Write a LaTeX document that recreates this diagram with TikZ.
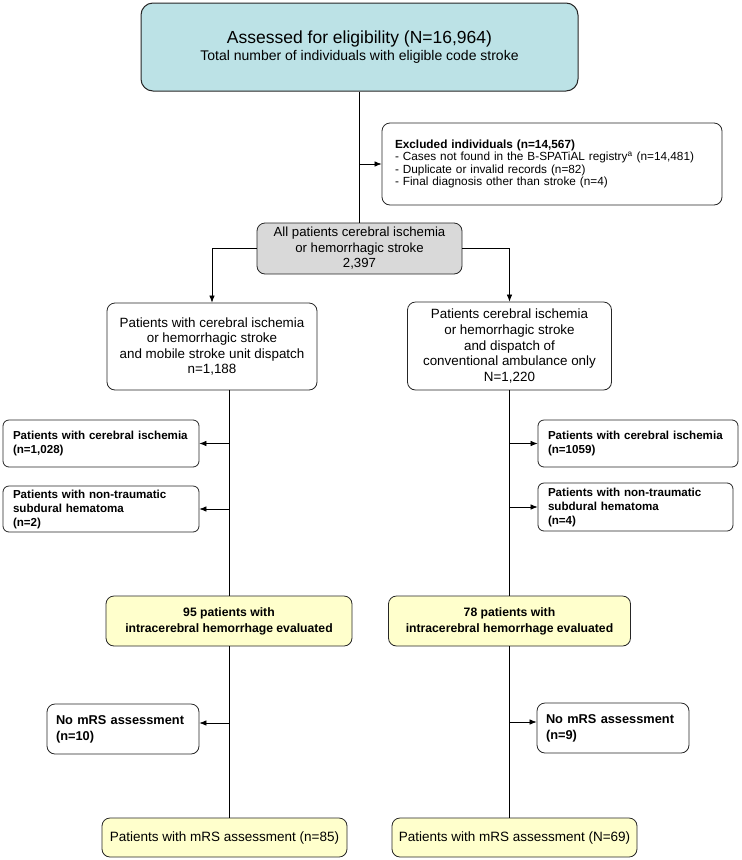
\documentclass[tikz,border=0pt]{standalone}
\usepackage{fontspec}
\setmainfont{Liberation Sans}
\usepackage{tikz}
\usetikzlibrary{shapes,arrows,arrows.meta,positioning,calc}
\definecolor{tealbox}{RGB}{188,226,230}
\definecolor{greybox}{RGB}{217,217,217}
\definecolor{yellowbox}{RGB}{255,255,204}
\tikzset{
block/.style = {draw=black!85, fill=white, rectangle, rounded corners=8pt, align=center, inner sep=2pt, line width=0.8pt},
topblock/.style = {block, fill=tealbox, rounded corners=12pt, line width=1pt},
greyblock/.style = {block, fill=greybox, font=\fontsize{13.2}{15.5}\selectfont},
armblock/.style = {block, font=\fontsize{13.4}{15.6}\selectfont},
sideblock/.style = {block, rounded corners=6pt, align=left, inner xsep=10pt, font=\fontsize{11.6}{14}\selectfont\bfseries},
ichblock/.style = {block, fill=yellowbox, font=\fontsize{12.2}{16}\selectfont\bfseries, minimum height=50pt},
mrsblock/.style = {block, fill=yellowbox, font=\fontsize{13.5}{16}\selectfont, minimum height=39pt},
nomrsblock/.style = {block, align=left, inner xsep=9pt, text width=134pt, minimum height=50pt, font=\fontsize{12.8}{16}\selectfont\bfseries}
}
\begin{document}
\begin{tikzpicture}[x=1pt, y=-1pt, >={Latex[length=7pt,width=5.5pt]}, every path/.style={line width=0.7pt}]
    \useasboundingbox (0,0) rectangle (742,860);

    \node[topblock, minimum width=437pt, minimum height=88pt, font=\fontsize{14}{17}\selectfont] (assess) at (359.5,47)
        {{\fontsize{17.5}{21}\selectfont Assessed for eligibility (N=16,964)}\\Total number of individuals with eligible code stroke};
    \node[block, align=left, text width=314pt, inner xsep=13pt, minimum height=82pt, font=\fontsize{11.8}{12.4}\selectfont] (excl) at (552,164)
        {\textbf{Excluded individuals (n=14,567)}\\
         - Cases not found in the B-SPATiAL registry\textsuperscript{a} (n=14,481)\\
         - Duplicate or invalid records (n=82)\\
         - Final diagnosis other than stroke (n=4)};
    \node[greyblock, minimum width=205pt, minimum height=51pt] (allpt) at (359.5,248.5)
        {All patients cerebral ischemia\\or hemorrhagic stroke\\2,397};

    \node[armblock, minimum width=210pt, minimum height=87pt] (msu) at (212,346.5)
        {Patients with cerebral ischemia\\or hemorrhagic stroke\\and mobile stroke unit dispatch\\n=1,188};
    \node[armblock, minimum width=204pt, minimum height=88pt] (conv) at (509.5,346)
        {Patients cerebral ischemia\\or hemorrhagic stroke\\and dispatch of\\conventional ambulance only\\N=1,220};

    \node[sideblock, text width=176pt, minimum height=47pt] (msuci) at (101,443.5) {Patients with cerebral ischemia\\(n=1,028)};
    \node[sideblock, text width=176pt, minimum height=46pt] (msush) at (101,509) {Patients with non-traumatic\\subdural hematoma\\(n=2)};
    \node[sideblock, text width=180pt, minimum height=47pt] (convci) at (638,443.5) {Patients with cerebral ischemia\\(n=1059)};
    \node[sideblock, text width=175pt, minimum height=48pt] (convsh) at (635.5,507) {Patients with non-traumatic\\subdural hematoma\\(n=4)};

    \node[ichblock, minimum width=246pt] (msuich) at (229,621) {95 patients with\\intracerebral hemorrhage evaluated};
    \node[ichblock, minimum width=242pt] (convich) at (509.5,621) {78 patients with\\intracerebral hemorrhage evaluated};

    \node[nomrsblock] (msunomrs) at (123,729) {No mRS assessment\\(n=10)};
    \node[nomrsblock] (convnomrs) at (613,728) {No mRS assessment\\(n=9)};

    \node[mrsblock, minimum width=245pt] (msumrs) at (224.5,837.5) {Patients with mRS assessment (n=85)};
    \node[mrsblock, minimum width=245pt] (convmrs) at (514.5,837.5) {Patients with mRS assessment (N=69)};

    \coordinate (m5) at ($(msunomrs.east)+(0,-6)$);
    \coordinate (c5) at ($(convnomrs.west)+(0,-6)$);

    \draw (assess) -- (allpt);
    \draw[->] (assess.south |- excl.west) -- (excl.west);
    \draw[->] (allpt.west) -| (msu.north);
    \draw[->] (allpt.east) -| (conv.north);

    \draw (msu.south -| msuich.north) -- (msuich.north);
    \draw (conv.south -| convich.north) -- (convich.north);
    \draw[->] (msuci.east -| msuich.north) -- (msuci.east);
    \draw[->] (msush.east -| msuich.north) -- (msush.east);
    \draw[->] (convci.west -| convich.north) -- (convci.west);
    \draw[->] (convsh.west -| convich.north) -- (convsh.west);

    \draw (msuich.south) -- (msuich.south |- msumrs.north);
    \draw (convich.south) -- (convich.south |- convmrs.north);
    \draw[->] (m5 -| msuich.south) -- (m5);
    \draw[->] (c5 -| convich.south) -- (c5);
\end{tikzpicture}
\end{document}
